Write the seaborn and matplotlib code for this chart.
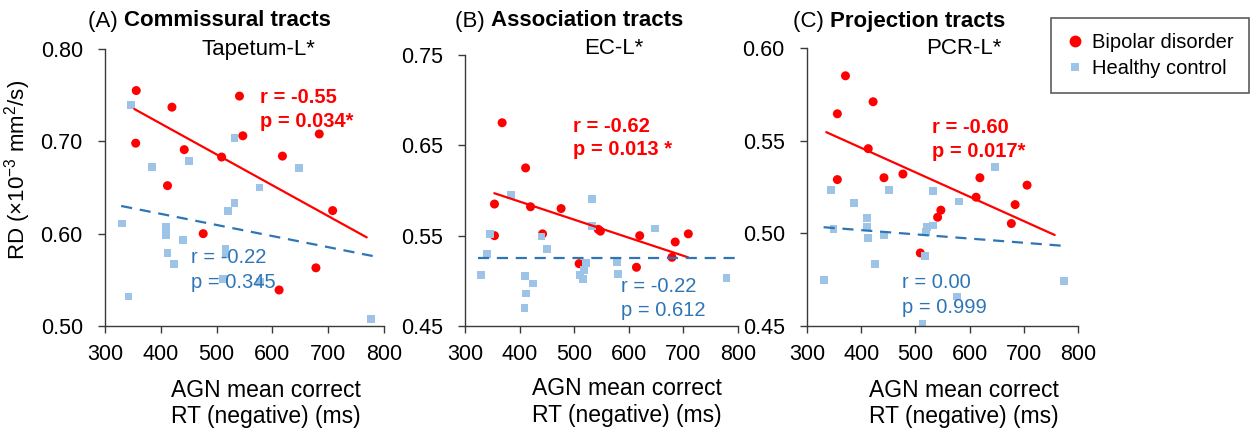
import numpy as np
import pandas as pd
import matplotlib
matplotlib.use("Agg")
import matplotlib.pyplot as plt
import seaborn as sns
from matplotlib.lines import Line2D
from matplotlib.ticker import FormatStrFormatter

sns.set_theme(style="ticks")
plt.rcParams["font.family"] = ["Liberation Sans", "DejaVu Sans"]
plt.rcParams["mathtext.fontset"] = "custom"
plt.rcParams["mathtext.rm"] = "Liberation Sans"
plt.rcParams["mathtext.it"] = "Liberation Sans:italic"
plt.rcParams["mathtext.bf"] = "Liberation Sans:bold"
plt.rcParams["text.color"] = "black"
plt.rcParams["axes.labelcolor"] = "black"
plt.rcParams["xtick.color"] = "black"
plt.rcParams["ytick.color"] = "black"

# ---------------- data ----------------
panel_letters = ["(A)", "(B)", "(C)"]
panel_titles = ["Commissural tracts", "Association tracts", "Projection tracts"]
region_names = ["Tapetum-L*", "EC-L*", "PCR-L*"]
groups = ["Bipolar disorder", "Healthy control"]

# Panel A: Tapetum-L
a_bd_rt = [356, 420, 355, 442, 412, 509, 541, 547, 476, 618, 684, 708, 678, 612]
a_bd_rd = [0.755, 0.737, 0.698, 0.691, 0.652, 0.683, 0.749, 0.706, 0.600, 0.684, 0.708, 0.625, 0.563, 0.539]
a_hc_rt = [347, 384, 450, 532, 647, 577, 521, 532, 330, 410, 410, 440, 412, 424, 516, 516, 511, 342, 777, 578]
a_hc_rd = [0.739, 0.672, 0.679, 0.704, 0.671, 0.650, 0.625, 0.633, 0.611, 0.607, 0.599, 0.593, 0.579, 0.567, 0.584, 0.578, 0.551, 0.532, 0.508, 0.548]

# Panel B: EC-L
b_bd_rt = [368, 411, 354, 420, 476, 354, 442, 544, 548, 509, 620, 614, 685, 679, 709]
b_bd_rd = [0.675, 0.625, 0.585, 0.582, 0.580, 0.550, 0.552, 0.557, 0.555, 0.519, 0.550, 0.515, 0.543, 0.526, 0.552]
b_hc_rt = [384, 532, 533, 648, 346, 440, 450, 341, 521, 518, 510, 516, 578, 581, 329, 410, 424, 412, 409, 779]
b_hc_rd = [0.595, 0.591, 0.561, 0.558, 0.552, 0.549, 0.535, 0.530, 0.520, 0.512, 0.506, 0.502, 0.521, 0.508, 0.506, 0.505, 0.497, 0.486, 0.470, 0.503]

# Panel C: PCR-L
c_bd_rt = [371, 356, 422, 413, 356, 442, 477, 547, 541, 509, 612, 619, 684, 677, 706]
c_bd_rd = [0.585, 0.5645, 0.571, 0.5457, 0.529, 0.530, 0.532, 0.5125, 0.5087, 0.4894, 0.5195, 0.530, 0.5155, 0.5053, 0.526]
c_hc_rt = [647, 344, 451, 533, 580, 386, 411, 349, 411, 413, 442, 533, 521, 519, 518, 426, 331, 576, 513, 774]
c_hc_rd = [0.5356, 0.5235, 0.5236, 0.523, 0.5172, 0.5165, 0.5083, 0.5024, 0.5033, 0.4977, 0.4993, 0.5042, 0.5035, 0.5008, 0.4876, 0.4834, 0.4749, 0.4659, 0.4511, 0.4745]

# trend lines (x range, y at the ends)
bd_trend_x = [[352.6, 769.0], [353.7, 708.6], [335.5, 757.0]]
bd_trend_y = [[0.735, 0.596], [0.597, 0.526], [0.5546, 0.4991]]
hc_trend_x = [[329.0, 779.7], [324.0, 797.0], [330.6, 775.5]]
hc_trend_y = [[0.630, 0.5758], [0.5248, 0.5248], [0.5033, 0.4932]]

bd_r_text = ["r = -0.55", "r = -0.62", "r = -0.60"]
bd_p_text = ["p = 0.034*", "p = 0.013 *", "p = 0.017*"]
hc_r_text = ["r = -0.22", "r = -0.22", "r = 0.00"]
hc_p_text = ["p = 0.345", "p = 0.612", "p = 0.999"]

y_min = [0.50, 0.45, 0.45]
y_max = [0.80, 0.75, 0.60]
y_step = [0.10, 0.10, 0.05]
x_ticks = [300, 400, 500, 600, 700, 800]

panels = [
    (a_bd_rt, a_bd_rd, a_hc_rt, a_hc_rd),
    (b_bd_rt, b_bd_rd, b_hc_rt, b_hc_rd),
    (c_bd_rt, c_bd_rd, c_hc_rt, c_hc_rd),
]

# ---------------- styling / layout ----------------
RED = "#FF0000"
LIGHT_BLUE = "#9DC3E6"
DARK_BLUE = "#2E75B6"
AX_COLOR = "#3a3a3a"

W, H = 1259, 432
fig = plt.figure(figsize=(W / 100, H / 100), dpi=100)

def px(x0, y0, x1, y1):
    return [x0 / W, 1 - y1 / H, (x1 - x0) / W, (y1 - y0) / H]

ax_boxes = [px(105, 49, 384, 326), px(465, 55, 738, 326), px(807, 48, 1078, 326)]
bd_text_pos = [(578, 0.748, 0.722), (498, 0.671, 0.6456), (531, 0.5573, 0.5443)]
hc_text_pos = [(454, 0.5737, 0.5466), (586, 0.4933, 0.4667), (475, 0.4733, 0.4598)]
region_x = [258, 614, 964]
title_x = [88, 455, 793]
xlabel_x = [0.577, 0.593, 0.58]

for i, (bd_rt, bd_rd, hc_rt, hc_rd) in enumerate(panels):
    ax = fig.add_axes(ax_boxes[i])
    df = pd.DataFrame({
        "rt": list(bd_rt) + list(hc_rt),
        "rd": list(bd_rd) + list(hc_rd),
        "group": [groups[0]] * len(bd_rt) + [groups[1]] * len(hc_rt),
    })
    sns.scatterplot(data=df[df.group == groups[0]], x="rt", y="rd", color=RED, marker="o",
                    s=42, edgecolor="none", linewidth=0, legend=False, ax=ax, zorder=2)
    sns.scatterplot(data=df[df.group == groups[1]], x="rt", y="rd", color=LIGHT_BLUE, marker="s",
                    s=32, edgecolor="none", linewidth=0, legend=False, ax=ax, zorder=2)
    ax.plot(bd_trend_x[i], bd_trend_y[i], color=RED, lw=1.6, zorder=3)
    ax.plot(hc_trend_x[i], hc_trend_y[i], color=DARK_BLUE, lw=1.6, ls=(0, (5, 3.5)), zorder=3)

    ax.set_xlim(300, 800)
    ax.set_ylim(y_min[i], y_max[i])
    ax.set_xticks(x_ticks)
    ax.set_yticks(np.arange(y_min[i], y_max[i] + 1e-9, y_step[i]))
    ax.yaxis.set_major_formatter(FormatStrFormatter("%.2f"))
    sns.despine(ax=ax)
    for sp in ["left", "bottom"]:
        ax.spines[sp].set_color(AX_COLOR)
        ax.spines[sp].set_linewidth(1.0)
    ax.tick_params(axis="both", direction="out", length=5, width=1.0, color=AX_COLOR,
                   labelsize=15.5, labelcolor="black")
    ax.tick_params(axis="y", pad=11)
    ax.tick_params(axis="x", pad=8)
    ax.set_ylabel("")
    ax.set_xlabel("AGN mean correct\nRT (negative) (ms)", fontsize=16.5, linespacing=1.2, color="black")
    ax.xaxis.set_label_coords(xlabel_x[i], -0.19)

    bx, by1, by2 = bd_text_pos[i]
    ax.text(bx, by1, bd_r_text[i], color=RED, fontsize=14.5, fontweight="bold", va="center", ha="left")
    ax.text(bx, by2, bd_p_text[i], color=RED, fontsize=14.5, fontweight="bold", va="center", ha="left")
    hx, hy1, hy2 = hc_text_pos[i]
    ax.text(hx, hy1, hc_r_text[i], color=DARK_BLUE, fontsize=14.5, va="center", ha="left")
    ax.text(hx, hy2, hc_p_text[i], color=DARK_BLUE, fontsize=14.5, va="center", ha="left")

    fig.text(region_x[i] / W, 1 - 49 / H, region_names[i], fontsize=16, ha="center", va="center",
             color="black")
    t1 = fig.text(title_x[i] / W, 1 - 21 / H, panel_letters[i] + " ", fontsize=16, ha="left",
                  va="center", color="black")
    ax.annotate(panel_titles[i], xy=(1, 0.5), xycoords=t1, fontsize=16, fontweight="bold",
                ha="left", va="center", color="black")

fig.text(18 / W, 1 - 170 / H, r"RD (×10$^{-3}$ mm$^{2}$/s)", rotation=90, fontsize=16,
         ha="center", va="center", color="black")

handles = [
    Line2D([], [], marker="o", color=RED, linestyle="", markersize=8.5, markeredgewidth=0),
    Line2D([], [], marker="s", color=LIGHT_BLUE, linestyle="", markersize=6, markeredgewidth=0),
]
leg = fig.legend(handles, groups, loc="upper left", bbox_to_anchor=(1051 / W, 1 - 18 / H),
                 frameon=True, fancybox=False, fontsize=14.5, borderpad=0.75,
                 handlelength=0.9, handletextpad=0.4, labelspacing=0.35, borderaxespad=0)
leg.get_frame().set_edgecolor("#333333")
leg.get_frame().set_linewidth(1.2)
for txt in leg.get_texts():
    txt.set_color("black")

fig.savefig("out.png", dpi=100)
